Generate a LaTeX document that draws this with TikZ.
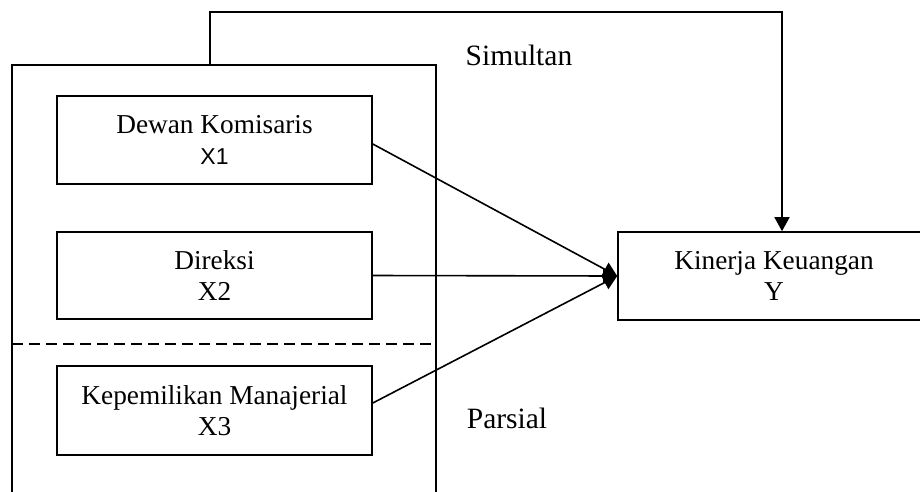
\documentclass[tikz,border=0pt]{standalone}
\usepackage{fontspec}
\setmainfont{Liberation Serif}
\newfontfamily\arialfont{Liberation Sans}
\usetikzlibrary{arrows.meta}
\begin{document}
\begin{tikzpicture}[x=1pt,y=-1pt, line width=1.6pt,
 box/.style={draw, rectangle, inner sep=0pt, align=center, font=\fontsize{27.3}{31}\selectfont},
 lbl/.style={inner sep=0pt, anchor=base, font=\fontsize{29.5}{33}\selectfont},
 arr/.style={-{Triangle[length=14pt,width=15pt]}}]
\useasboundingbox (0,0) rectangle (920,491);
\clip (0,0) rectangle (920,491);
% outer frame (open at the bottom)
\coordinate (bl) at (12,500);
\coordinate (tl) at (12,65);
\coordinate (tr) at (436,65);
\coordinate (br) at (436,500);
\draw (bl) -- (tl) -- (tr) -- (br);
% dashed separator
\coordinate (dl) at (12,344);
\coordinate (dr) at (436,344);
\draw[dash pattern=on 11pt off 6pt] (dl) -- (dr);
% boxes
\node[box, minimum width=315pt, minimum height=88pt] (x1) at (214.5,140) {Dewan Komisaris\\{\arialfont\fontsize{23}{31}\selectfont X1}};
\node[box, minimum width=315pt, minimum height=87pt] (x2) at (214.5,275.5) {Direksi\\X2};
\node[box, minimum width=315pt, minimum height=89pt] (x3) at (214.5,410.5) {Kepemilikan Manajerial\\X3};
\node[box, minimum width=312pt, minimum height=88pt] (y) at (774,276) {Kinerja Keuangan\\Y};
% labels
\node[lbl] (sim) at (519,65) {Simultan};
\node[lbl] (par) at (507,428) {Parsial};
% connectors
\draw[arr] ([yshift=-4pt]x1.east) -- (y.west);
\draw[arr] (x2.east) -- (y.west);
\draw[arr] ([yshift=7.5pt]x3.east) -- (y.west);
\coordinate (s) at (210,65);
\coordinate (t) at (782,12);
\draw[arr] (s) |- (t) -- (t |- y.north);
\end{tikzpicture}
\end{document}
